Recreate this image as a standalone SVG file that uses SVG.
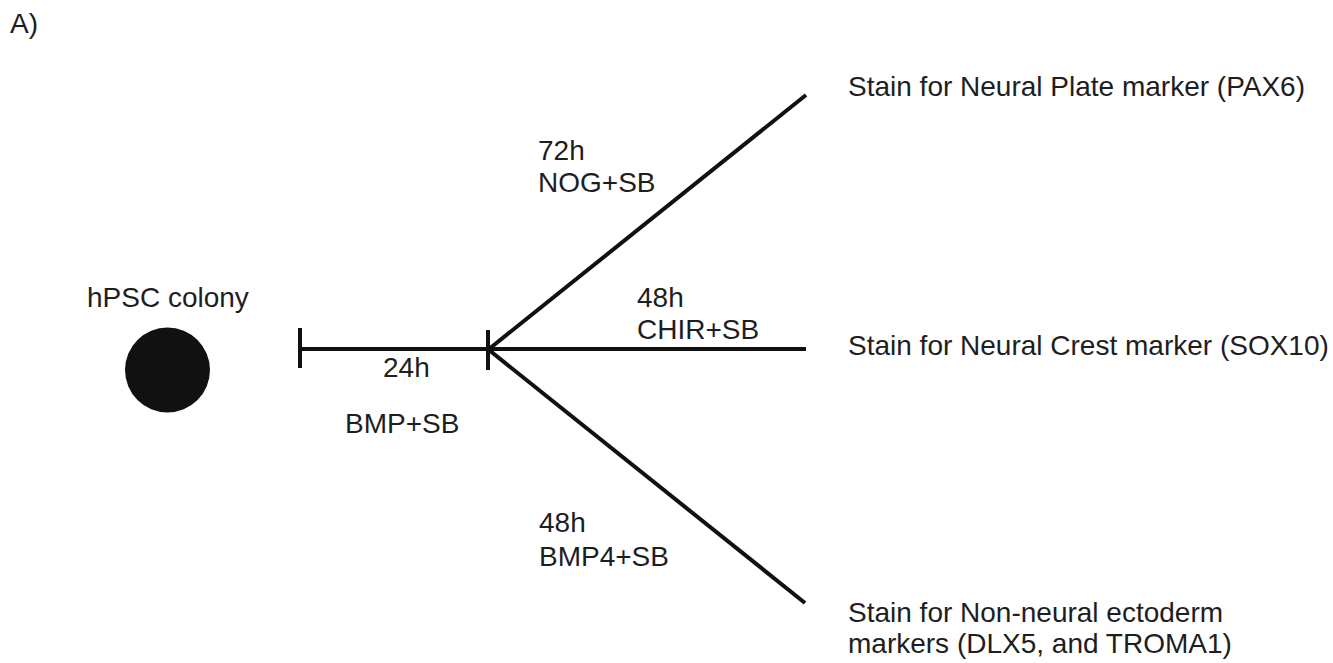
<svg xmlns="http://www.w3.org/2000/svg" width="1333" height="663" viewBox="0 0 1333 663">
<style>
text{font-family:"Liberation Sans",Arial,sans-serif;font-size:28px;fill:#1e1e1e}
.ln{stroke:#111;stroke-width:4;fill:none;stroke-linecap:butt}
</style>
<rect width="1333" height="663" fill="#fff"/>
<text x="10" y="33">A)</text>
<g id="colony">
<circle cx="167.5" cy="370" r="42.5" fill="#111"/>
<text x="87" y="307">hPSC colony</text>
</g>
<g id="connectors">
<line class="ln" x1="300" y1="349" x2="488" y2="349"/>
<line class="ln" x1="300" y1="328" x2="300" y2="368"/>
<line class="ln" x1="488" y1="330" x2="488" y2="370"/>
<line class="ln" x1="488" y1="349" x2="806" y2="349"/>
<line class="ln" x1="489" y1="349" x2="806" y2="95"/>
<line class="ln" x1="489" y1="350" x2="805" y2="603"/>
</g>
<g id="label-bmp">
<text x="383" y="377">24h</text>
<text x="345" y="433">BMP+SB</text>
</g>
<g id="label-nog">
<text x="538" y="160">72h</text>
<text x="538" y="192">NOG+SB</text>
</g>
<g id="label-chir">
<text x="637" y="307">48h</text>
<text x="637" y="339">CHIR+SB</text>
</g>
<g id="label-bmp4">
<text x="539" y="532">48h</text>
<text x="539" y="566">BMP4+SB</text>
</g>
<g id="neural-plate">
<text x="848" y="96">Stain for Neural Plate marker (PAX6)</text>
</g>
<g id="neural-crest">
<text x="848" y="355">Stain for Neural Crest marker (SOX10)</text>
</g>
<g id="non-neural">
<text x="848" y="622">Stain for Non-neural ectoderm</text>
<text x="848" y="653">markers (DLX5, and TROMA1)</text>
</g>
</svg>
